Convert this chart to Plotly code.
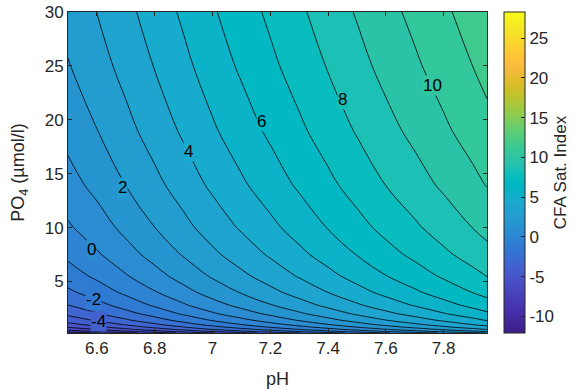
import plotly.graph_objects as go

# ---- data ----
pH = [6.5, 6.6, 6.7, 6.8, 6.9, 7.0, 7.1, 7.2, 7.3, 7.4, 7.5, 7.6, 7.7, 7.8, 7.9, 7.95]
PO4 = [0.22, 0.3, 0.4, 0.55, 0.75, 1, 1.4, 2, 2.8, 4, 5.5, 7.5, 10, 14, 19, 25, 30]

# CFA saturation index, rows follow PO4, columns follow pH
cfa_si = [
    [-8.75, -8.07, -7.31, -6.57, -5.80, -5.06, -4.38, -3.70, -3.04, -2.39, -1.72, -1.09, -0.49, 0.11, 0.71, 1.03],
    [-8.05, -7.37, -6.61, -5.87, -5.11, -4.37, -3.69, -3.01, -2.35, -1.70, -1.04, -0.41, 0.19, 0.79, 1.38, 1.70],
    [-7.40, -6.72, -5.97, -5.23, -4.47, -3.73, -3.05, -2.37, -1.72, -1.07, -0.41, 0.22, 0.82, 1.42, 2.01, 2.32],
    [-6.68, -6.00, -5.25, -4.51, -3.76, -3.02, -2.34, -1.67, -1.01, -0.36, 0.29, 0.92, 1.51, 2.11, 2.70, 3.02],
    [-5.98, -5.31, -4.55, -3.82, -3.07, -2.33, -1.65, -0.98, -0.33, 0.32, 0.97, 1.60, 2.19, 2.79, 3.37, 3.69],
    [-5.33, -4.66, -3.91, -3.17, -2.42, -1.69, -1.01, -0.34, 0.31, 0.96, 1.61, 2.23, 2.82, 3.41, 4.00, 4.31],
    [-4.57, -3.90, -3.15, -2.42, -1.67, -0.94, -0.27, 0.40, 1.06, 1.70, 2.35, 2.97, 3.56, 4.15, 4.73, 5.05],
    [-3.77, -3.09, -2.35, -1.62, -0.88, -0.14, 0.53, 1.19, 1.84, 2.49, 3.13, 3.75, 4.33, 4.93, 5.51, 5.82],
    [-3.01, -2.34, -1.60, -0.87, -0.12, 0.61, 1.28, 1.94, 2.59, 3.23, 3.87, 4.49, 5.07, 5.66, 6.24, 6.55],
    [-2.20, -1.53, -0.80, -0.07, 0.67, 1.40, 2.07, 2.73, 3.38, 4.01, 4.65, 5.27, 5.85, 6.44, 7.02, 7.32],
    [-1.48, -0.81, -0.08, 0.65, 1.38, 2.11, 2.78, 3.43, 4.08, 4.72, 5.35, 5.97, 6.54, 7.13, 7.71, 8.02],
    [-0.78, -0.12, 0.62, 1.34, 2.08, 2.80, 3.47, 4.12, 4.77, 5.40, 6.03, 6.65, 7.22, 7.81, 8.38, 8.69],
    [-0.13, 0.53, 1.26, 1.99, 2.72, 3.44, 4.11, 4.76, 5.40, 6.04, 6.67, 7.28, 7.85, 8.43, 9.01, 9.31],
    [0.63, 1.29, 2.02, 2.74, 3.47, 4.19, 4.86, 5.50, 6.15, 6.78, 7.41, 8.02, 8.59, 9.17, 9.74, 10.05],
    [1.32, 1.98, 2.70, 3.43, 4.15, 4.87, 5.53, 6.18, 6.82, 7.45, 8.08, 8.69, 9.25, 9.83, 10.41, 10.71],
    [1.94, 2.60, 3.32, 4.04, 4.76, 5.48, 6.15, 6.79, 7.43, 8.06, 8.68, 9.29, 9.85, 10.43, 11.00, 11.30],
    [2.35, 3.01, 3.73, 4.45, 5.17, 5.89, 6.55, 7.19, 7.83, 8.46, 9.08, 9.69, 10.25, 10.83, 11.40, 11.70],
]

# contour labels (value, pH, PO4) as placed in the reference
label_values = [-4, -2, 0, 2, 4, 6, 8, 10]
label_pH = [6.605, 6.588, 6.583, 6.687, 6.916, 7.168, 7.449, 7.761]
label_PO4 = [1.28, 3.36, 7.95, 13.72, 17.07, 19.8, 21.9, 23.2]

x_tickvals = [6.6, 6.8, 7.0, 7.2, 7.4, 7.6, 7.8]
x_ticktext = ["6.6", "6.8", "7", "7.2", "7.4", "7.6", "7.8"]
y_tickvals = [5, 10, 15, 20, 25, 30]
cb_tickvals = [-10, -5, 0, 5, 10, 15, 20, 25]
cb_ticktext = ["-10", "-5", "0", "5", "10", "15", "20", "25"]

# ---- style ----
parula = [
    [0.2422, 0.1504, 0.6603], [0.2504, 0.1650, 0.7076], [0.2578, 0.1818, 0.7511], [0.2647, 0.1978, 0.7952],
    [0.2706, 0.2147, 0.8364], [0.2751, 0.2342, 0.8710], [0.2783, 0.2559, 0.8991], [0.2803, 0.2782, 0.9221],
    [0.2813, 0.3006, 0.9414], [0.2810, 0.3228, 0.9579], [0.2795, 0.3447, 0.9717], [0.2760, 0.3667, 0.9829],
    [0.2699, 0.3892, 0.9906], [0.2602, 0.4123, 0.9952], [0.2440, 0.4358, 0.9988], [0.2206, 0.4603, 0.9973],
    [0.1963, 0.4847, 0.9892], [0.1834, 0.5074, 0.9798], [0.1786, 0.5289, 0.9682], [0.1764, 0.5499, 0.9520],
    [0.1687, 0.5703, 0.9359], [0.1540, 0.5902, 0.9218], [0.1460, 0.6091, 0.9079], [0.1380, 0.6276, 0.8973],
    [0.1248, 0.6459, 0.8883], [0.1113, 0.6635, 0.8763], [0.0952, 0.6798, 0.8598], [0.0689, 0.6948, 0.8394],
    [0.0297, 0.7082, 0.8163], [0.0036, 0.7203, 0.7917], [0.0067, 0.7312, 0.7660], [0.0433, 0.7411, 0.7394],
    [0.0964, 0.7500, 0.7120], [0.1408, 0.7584, 0.6842], [0.1717, 0.7670, 0.6554], [0.1938, 0.7758, 0.6251],
    [0.2161, 0.7843, 0.5923], [0.2470, 0.7918, 0.5567], [0.2906, 0.7973, 0.5188], [0.3406, 0.8008, 0.4789],
    [0.3909, 0.8029, 0.4354], [0.4456, 0.8024, 0.3909], [0.5044, 0.7993, 0.3480], [0.5616, 0.7942, 0.3045],
    [0.6174, 0.7876, 0.2612], [0.6720, 0.7793, 0.2227], [0.7242, 0.7698, 0.1910], [0.7738, 0.7598, 0.1646],
    [0.8203, 0.7498, 0.1535], [0.8634, 0.7406, 0.1596], [0.9035, 0.7330, 0.1774], [0.9393, 0.7288, 0.2100],
    [0.9728, 0.7298, 0.2394], [0.9956, 0.7434, 0.2371], [0.9970, 0.7659, 0.2199], [0.9952, 0.7893, 0.2028],
    [0.9892, 0.8136, 0.1885], [0.9786, 0.8386, 0.1766], [0.9676, 0.8639, 0.1643], [0.9610, 0.8890, 0.1537],
    [0.9597, 0.9135, 0.1423], [0.9628, 0.9373, 0.1265], [0.9691, 0.9606, 0.1064], [0.9769, 0.9839, 0.0805],
]


def rgb(c):
    r, g, b = c
    # the reference renders the saturated blues somewhat muted
    b = b - 0.32 * max(0.0, b - max(r, g))
    g = g - 0.08 * max(0.0, b - g)
    return "rgb(%d,%d,%d)" % (round(r * 255), round(g * 255), round(b * 255))


n = len(parula)
colorscale = [[i / (n - 1), rgb(c)] for i, c in enumerate(parula)]
CMIN, CMAX = -12.1, 28.3


def color_at(v):
    t = (v - CMIN) / (CMAX - CMIN)
    return rgb(parula[max(0, min(n - 1, int(t * (n - 1) + 0.5)))])


FONT = "Liberation Sans, Arial, Helvetica, sans-serif"
AX = "#262626"
TICK_SIZE = 17
TITLE_SIZE = 18

fig = go.Figure()
fig.add_trace(go.Contour(
    x=pH, y=PO4, z=cfa_si,
    colorscale=colorscale,
    autocontour=False,
    contours=dict(start=-12, end=28, size=1, coloring="fill"),
    line=dict(color="black", width=0.8, smoothing=1.0),
    showscale=False,
    hoverinfo="skip",
))
# continuous colour bar
fig.add_trace(go.Scatter(
    x=[pH[0]], y=[PO4[-1]], mode="markers",
    marker=dict(size=1, opacity=0, color=[0], colorscale=colorscale, cmin=CMIN, cmax=CMAX,
                showscale=True,
                colorbar=dict(
                    thickness=21, len=1, lenmode="fraction", y=0.5, yanchor="middle",
                    x=1.04, xanchor="left", xpad=0, ypad=0,
                    outlinecolor=AX, outlinewidth=1,
                    ticks="inside", ticklen=4, tickcolor=AX,
                    tickvals=cb_tickvals, ticktext=cb_ticktext,
                    tickfont=dict(family=FONT, size=TICK_SIZE, color=AX),
                )),
    hoverinfo="skip", showlegend=False,
))

# colour bar title
fig.add_annotation(xref="paper", yref="paper", x=1.176, y=0.5, xanchor="center", yanchor="middle",
                   text="CFA Sat. Index", textangle=-90, showarrow=False,
                   font=dict(family=FONT, size=17, color=AX))

for v, xp, yp in zip(label_values, label_pH, label_PO4):
    fig.add_annotation(x=xp, y=yp, text=str(v), showarrow=False,
                       font=dict(family=FONT, size=TICK_SIZE, color="black"),
                       bgcolor=color_at(v + 0.5), borderpad=0)

axis_common = dict(showgrid=False, zeroline=False, showline=True, linecolor=AX, linewidth=1,
                   mirror="allticks", ticks="inside", ticklen=4, tickcolor=AX, automargin=False,
                   tickfont=dict(family=FONT, size=TICK_SIZE, color=AX))
fig.update_xaxes(range=[6.5, 7.95], tickvals=x_tickvals, ticktext=x_ticktext,
                 title=dict(text="pH", font=dict(family=FONT, size=TITLE_SIZE, color=AX)),
                 **axis_common)
fig.update_yaxes(range=[0.22, 30], tickvals=y_tickvals,
                 title=dict(text="PO<sub>4</sub> (µmol/l)", font=dict(family=FONT, size=TITLE_SIZE, color=AX)),
                 **axis_common)
fig.update_layout(width=573, height=389, margin=dict(l=68, r=86, t=12, b=56, autoexpand=False),
                  paper_bgcolor="white", plot_bgcolor="white", showlegend=False)
fig.write_html("out.html")
